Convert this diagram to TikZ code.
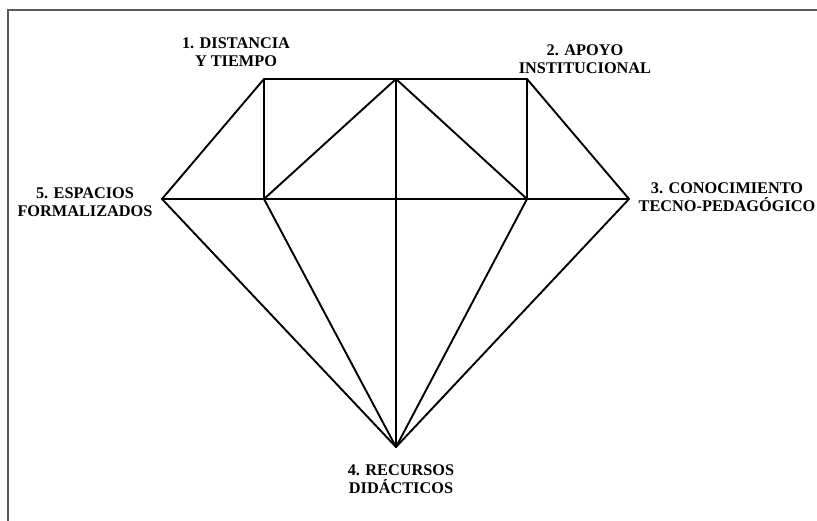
\documentclass[tikz,border=0pt]{standalone}
\usepackage{fontspec}
\setmainfont{Liberation Serif}
\begin{document}
\begin{tikzpicture}[x=1pt,y=-1pt,
  edge/.style={line width=1.9pt,black,line join=round,line cap=round},
  lbl/.style={align=center,font=\bfseries\fontsize{16.3}{18.5}\selectfont,inner sep=0pt}]
\useasboundingbox (0,0) rectangle (817,521);
\draw[line width=1.8pt,black!65] (8,530) -- (8,10) -- (830,10);
% vertices
\coordinate (tl) at (264,79);
\coordinate (tm) at (396,79);
\coordinate (tr) at (527,79);
\coordinate (ml) at (162,199);
\coordinate (mml) at (264,199);
\coordinate (mc) at (396,199);
\coordinate (mmr) at (527,199);
\coordinate (mr) at (629,199);
\coordinate (bt) at (396,447);
% edges
\draw[edge] (ml) -- (tl) -- (tm) -- (tr) -- (mr);
\draw[edge] (ml) -- (mml) -- (mc) -- (mmr) -- (mr);
\draw[edge] (tl) -- (mml);
\draw[edge] (tr) -- (mmr);
\draw[edge] (tm) -- (mc) -- (bt);
\draw[edge] (mml) -- (tm) -- (mmr);
\draw[edge] (ml) -- (bt);
\draw[edge] (mml) -- (bt);
\draw[edge] (mmr) -- (bt);
\draw[edge] (mr) -- (bt);
% labels
\node[lbl] (l1) at (236,52) {1. DISTANCIA\\Y TIEMPO};
\node[lbl] (l2) at (585,59) {2. APOYO\\INSTITUCIONAL};
\node[lbl] (l3) at (727,197) {3. CONOCIMIENTO\\TECNO-PEDAGÓGICO};
\node[lbl] (l4) at (401,479) {4. RECURSOS\\DIDÁCTICOS};
\node[lbl] (l5) at (85,202) {5. ESPACIOS\\FORMALIZADOS};
\end{tikzpicture}
\end{document}
